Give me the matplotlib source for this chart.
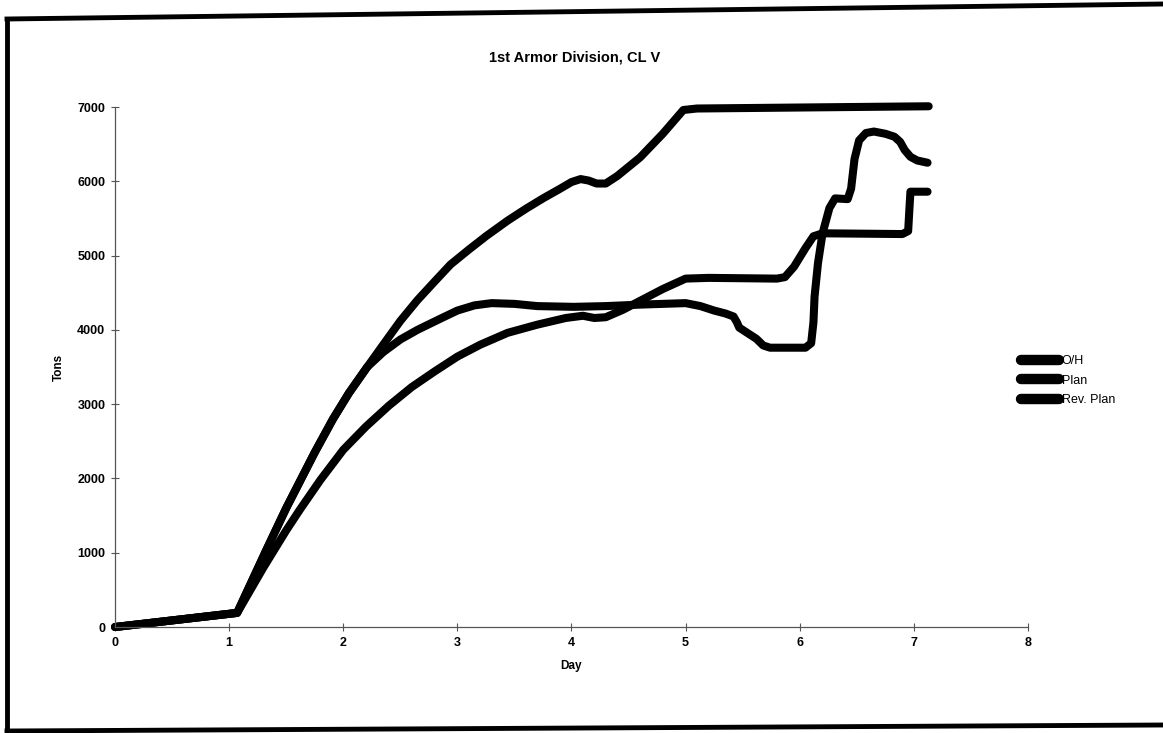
import matplotlib
matplotlib.use("Agg")
import matplotlib.pyplot as plt
from matplotlib.lines import Line2D

plt.rcParams['font.family'] = ['Liberation Sans', 'DejaVu Sans']

# O/H - upper curve that levels off at 7000
oh_day = [0, 1.07, 1.2, 1.33, 1.5, 1.62, 1.75, 1.91, 2.05, 2.21, 2.35, 2.5, 2.65,
          2.8, 2.94, 3.1, 3.25, 3.44, 3.6, 3.75, 3.9, 4.0, 4.08, 4.15, 4.22, 4.3,
          4.4, 4.6, 4.8, 4.98, 5.1, 7.13]
oh_tons = [0, 190, 620, 1050, 1600, 1960, 2350, 2800, 3150, 3500, 3800, 4120, 4400,
           4650, 4880, 5080, 5260, 5470, 5630, 5770, 5900, 5990, 6030, 6010, 5970, 5970,
           6070, 6320, 6640, 6960, 6980, 7010]

# Plan - plateau, dip, then jump
plan_day = [0, 1.07, 1.2, 1.33, 1.5, 1.62, 1.75, 1.91, 2.05, 2.21, 2.35, 2.5, 2.65,
            2.85, 3.0, 3.15, 3.3, 3.5, 3.7, 4.02, 4.3, 4.6, 5.0, 5.13, 5.25, 5.35,
            5.42, 5.45, 5.47, 5.55, 5.62, 5.68, 5.74, 6.05, 6.1, 6.12, 6.13, 6.16,
            6.2, 6.26, 6.31, 6.42, 6.45, 6.48, 6.52, 6.58, 6.65, 6.75, 6.83, 6.88,
            6.92, 6.97, 7.03, 7.12]
plan_tons = [0, 190, 620, 1050, 1600, 1960, 2350, 2800, 3150, 3500, 3700, 3870, 4000,
             4150, 4260, 4330, 4360, 4350, 4320, 4310, 4320, 4340, 4360, 4320, 4260, 4220,
             4180, 4100, 4030, 3950, 3880, 3790, 3760, 3760, 3820, 4100, 4450, 4900,
             5300, 5640, 5770, 5760, 5900, 6300, 6550, 6650, 6670, 6640, 6600, 6530,
             6420, 6330, 6280, 6250]

# Rev. Plan - lower curve with steps
rev_day = [0, 1.07, 1.3, 1.5, 1.62, 1.8, 2.0, 2.2, 2.4, 2.6, 2.8, 3.0, 3.2, 3.44,
           3.7, 3.95, 4.1, 4.2, 4.3, 4.45, 4.6, 4.8, 5.0, 5.2, 5.8, 5.87, 5.95, 6.05,
           6.12, 6.2, 6.9, 6.95, 6.96, 6.97, 7.12]
rev_tons = [0, 190, 800, 1300, 1580, 1980, 2385, 2700, 2980, 3230, 3440, 3640, 3800, 3960,
            4070, 4160, 4190, 4160, 4170, 4270, 4390, 4550, 4690, 4700, 4690, 4710, 4850, 5100,
            5260, 5300, 5290, 5330, 5600, 5860, 5860]

labels = ['O/H', 'Plan', 'Rev. Plan']

fig = plt.figure(figsize=(11.63, 7.33), dpi=100)
ax = fig.add_axes([0.0989, 0.1446, 0.785, 0.7094])

kw = dict(color='black', lw=5.8, solid_capstyle='round', solid_joinstyle='round', clip_on=False)
ax.plot(oh_day, oh_tons, label=labels[0], **kw)
ax.plot(plan_day, plan_tons, label=labels[1], **kw)
ax.plot(rev_day, rev_tons, label=labels[2], **kw)

ax.set_xlim(0, 8)
ax.set_ylim(0, 7000)
ax.set_xticks(range(0, 9))
ax.set_yticks(range(0, 7001, 1000))
for s in ['top', 'right']:
    ax.spines[s].set_visible(False)
for s in ['left', 'bottom']:
    ax.spines[s].set_color('#555555')
    ax.spines[s].set_linewidth(0.9)
ax.tick_params(direction='inout', length=6, width=0.8, color='#555555',
               labelsize=9, pad=4)
for t in ax.get_xticklabels() + ax.get_yticklabels():
    t.set_fontweight('bold')

ax.set_xlabel('Day', fontsize=8.5, fontweight='bold', labelpad=8)
ax.set_ylabel('Tons', fontsize=8.5, fontweight='bold', labelpad=9)
fig.text(0.494, 0.921, '1st Armor Division, CL V', ha='center', va='center',
         fontsize=10.5, fontweight='bold')

leg = fig.legend(loc='upper left', bbox_to_anchor=(1021 / 1163, 1 - 355 / 733),
                 frameon=False, fontsize=9, handlelength=3.0, handletextpad=0.25,
                 labelspacing=0.6, borderpad=0, borderaxespad=0)
for h in leg.get_lines():
    h.set_linewidth(7.5)

# scanned page border
fig.add_artist(Line2D([0.006, 1.0], [1 - 19 / 733, 1 - 4 / 733], color='black', lw=3.5, transform=fig.transFigure))
fig.add_artist(Line2D([0.006, 0.006], [1 - 19 / 733, 1 - 731 / 733], color='black', lw=3.5, transform=fig.transFigure))
fig.add_artist(Line2D([0.006, 1.0], [1 - 731 / 733, 1 - 725 / 733], color='black', lw=3.5, transform=fig.transFigure))

fig.savefig('out.png', dpi=100)
